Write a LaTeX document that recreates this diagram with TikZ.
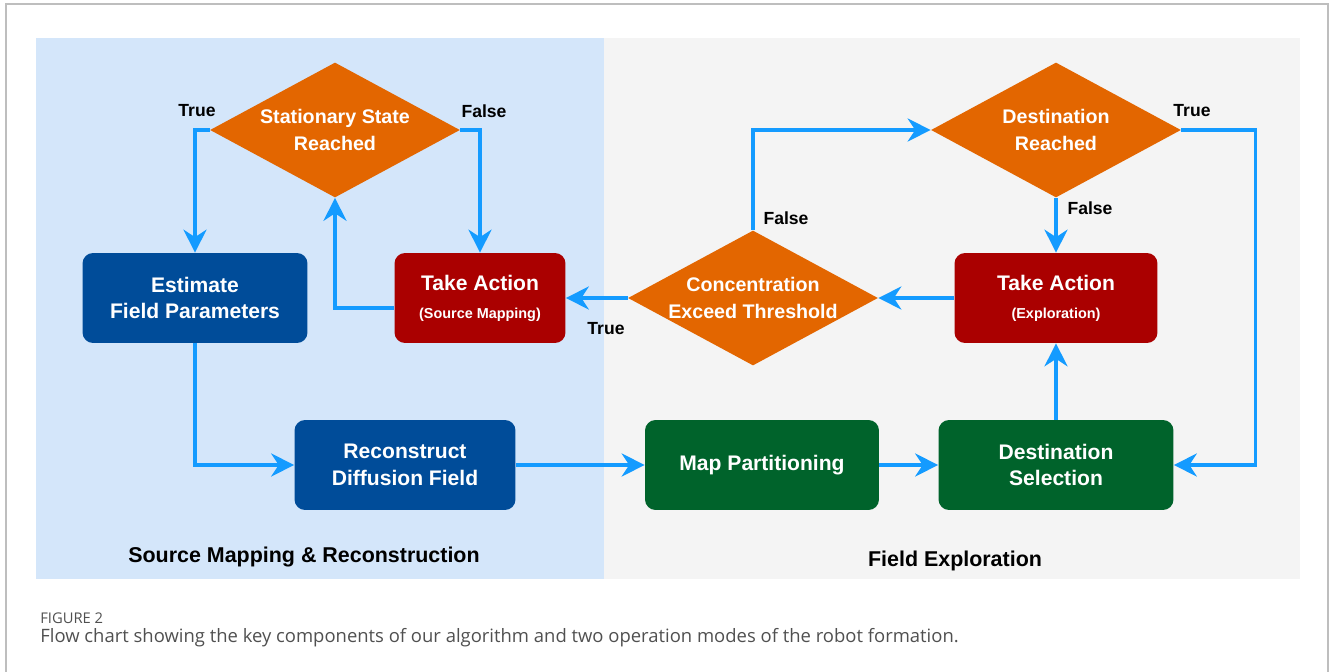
\documentclass[tikz,border=0pt]{standalone}
\usepackage{fontspec}
\setmainfont{Liberation Sans}
\newfontfamily\capfont{Open Sans}
\usetikzlibrary{arrows.meta,shapes.geometric}

\definecolor{panelblue}{RGB}{212,230,250}
\definecolor{panelgray}{RGB}{244,244,244}
\definecolor{boxblue}{RGB}{0,76,153}
\definecolor{boxred}{RGB}{170,0,0}
\definecolor{boxgreen}{RGB}{0,99,43}
\definecolor{decorange}{RGB}{227,102,0}
\definecolor{flowblue}{RGB}{20,155,255}
\definecolor{framegray}{RGB}{190,190,190}
\definecolor{captiongray}{RGB}{80,80,80}

\begin{document}
\begin{tikzpicture}[
    x=0.02cm, y=-0.02cm,
    block/.style={rectangle, rounded corners=6pt,
                  minimum height=1.8cm, inner sep=0pt,
                  text centered, align=center, text=white,
                  font=\fontsize{12}{15}\selectfont\bfseries},
    blockblue/.style={block, fill=boxblue},
    blockred/.style={block, fill=boxred},
    blockgreen/.style={block, fill=boxgreen},
    decision/.style={diamond, aspect=1.85, inner sep=0pt,
                  minimum width=5cm, minimum height=2.7cm,
                  fill=decorange, align=center, text=white,
                  font=\fontsize{11.2}{15}\selectfont\bfseries},
    arrow/.style={-{Stealth[length=4.6mm, width=4.6mm, inset=1.5mm]},
                  line width=2pt, draw=flowblue},
    lbl/.style={font=\fontsize{10}{12}\selectfont\bfseries},
    paneltitle/.style={font=\fontsize{12.2}{15}\selectfont\bfseries}
]
    \useasboundingbox (0,0) rectangle (1332,672);

    % Rahmen und Bereiche
    \draw[framegray, line width=0.6pt] (6,672) -- (6,4) -- (1328,4) -- (1328,672);
    \fill[panelblue] (36,38) rectangle (604,579);
    \fill[panelgray] (604,38) rectangle (1300,579);

    % Quellenkartierung
    \node[decision] (stat) at (335,130) {Stationary State\\Reached};
    \node[blockblue, minimum width=4.5cm] (est) at (195,298)
        {Estimate\\Field Parameters};
    \node[blockred, minimum width=3.42cm] (tasm) at (480,298)
        {Take Action\\[1pt]{\fontsize{8.2}{10}\selectfont (Source Mapping)}};
    \node[blockblue, minimum width=4.42cm] (rec) at (405,465)
        {Reconstruct\\Diffusion Field};

    % Erkundung
    \node[decision] (dest) at (1056,130) {Destination\\Reached};
    \node[decision] (conc) at (753,298) {Concentration\\Exceed Threshold};
    \node[blockred, minimum width=4.06cm] (taex) at (1056,298)
        {Take Action\\[1pt]{\fontsize{8.2}{10}\selectfont (Exploration)}};
    \node[blockgreen, minimum width=4.68cm] (map) at (762,465)
        {Map Partitioning};
    \node[blockgreen, minimum width=4.7cm] (dsel) at (1056,465)
        {Destination\\Selection};

    % Titel
    \node[paneltitle] (srctitle) at (304,557) {Source Mapping \& Reconstruction};
    \node[paneltitle] (exptitle) at (955,561) {Field Exploration};

    % Pfeile
    \draw[arrow] (stat.west) -| (est.north);
    \draw[arrow] (stat.east) -| (tasm.north);
    \draw[arrow] ([yshift=-0.2cm]tasm.west) -| (stat.south);
    \draw[arrow] (est.south) |- (rec.west);
    \draw[arrow] (rec) -- (map);
    \draw[arrow] (map) -- (dsel);
    \draw[arrow] (dsel) -- (taex);
    \draw[arrow] (taex) -- (conc);
    \draw[arrow] (conc) -- (tasm);
    \draw[arrow] (conc.north) |- (dest.west);
    \draw[arrow] (dest) -- (taex);
    \draw[arrow] (dest.east) -- ++(74,0) |- (dsel.east);

    % Beschriftungen
    \node[lbl] (t1) at (197,111) {True};
    \node[lbl] (f1) at (484,111) {False};
    \node[lbl] (t2) at (1192,111) {True};
    \node[lbl] (f2) at (1090,208) {False};
    \node[lbl] (f3) at (786,218) {False};
    \node[lbl] (t3) at (606,329) {True};

    % Bildunterschrift
    \node[anchor=west, inner sep=0pt, text=captiongray,
          font=\capfont\fontsize{8.4}{10}\selectfont] (fignum) at (40,618) {FIGURE 2};
    \node[anchor=west, inner sep=0pt, text=captiongray,
          font=\capfont\fontsize{10.5}{12}\selectfont] (caption) at (40,638)
        {Flow chart showing the key components of our algorithm and two operation modes of the robot formation.};
\end{tikzpicture}
\end{document}
